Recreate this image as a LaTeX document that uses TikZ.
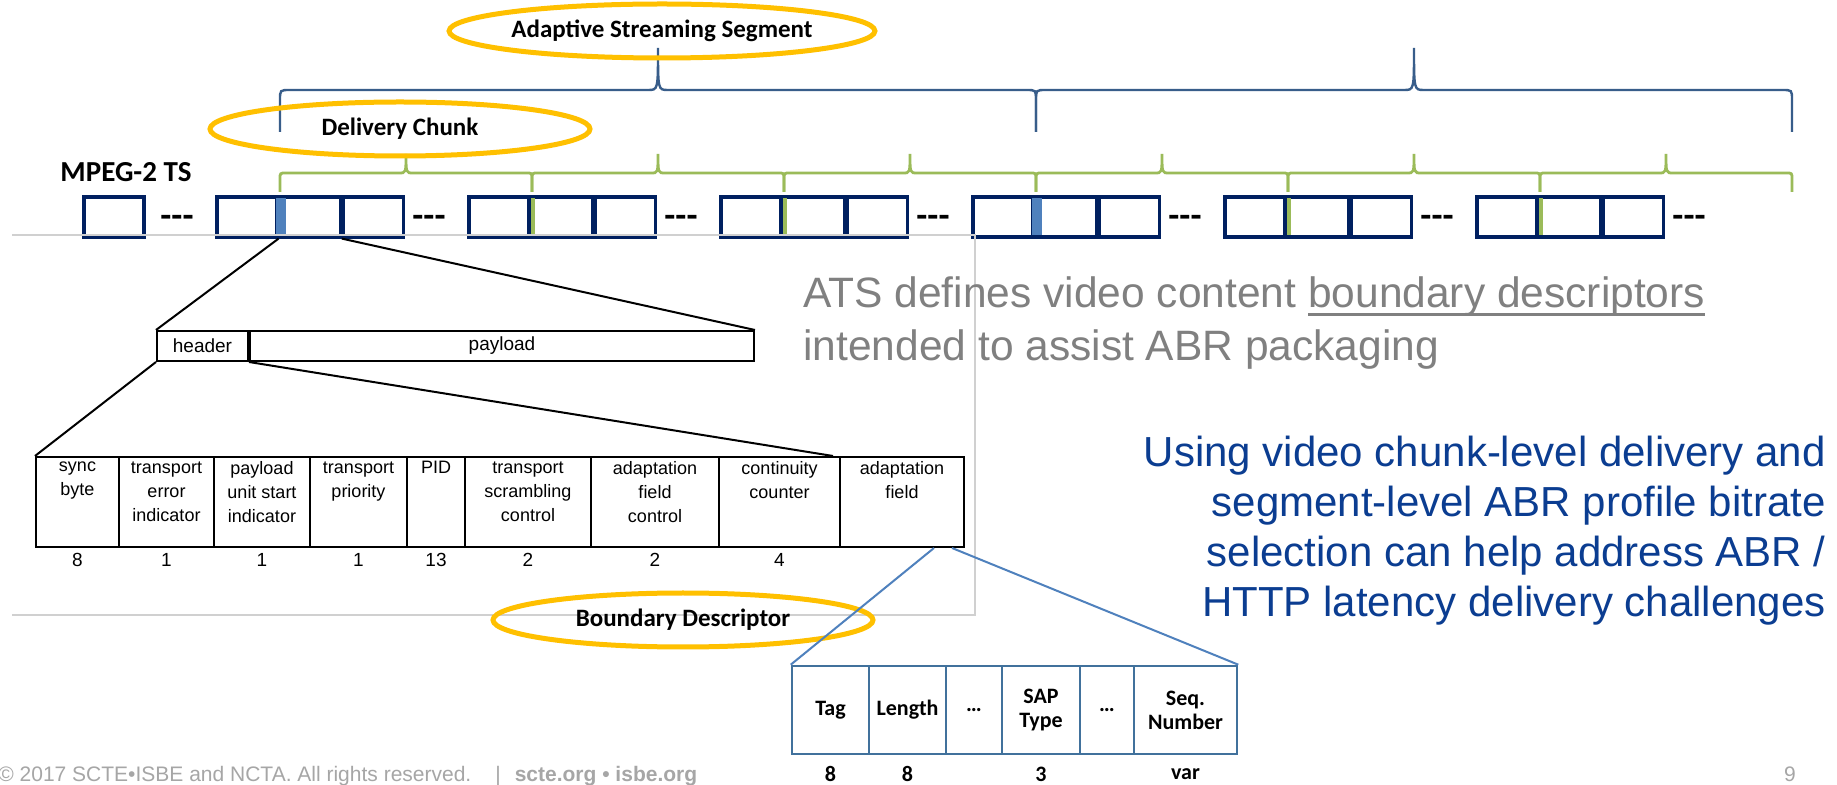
\documentclass[tikz,border=0pt]{standalone}
\usepackage{fontspec}
\setmainfont{Liberation Sans}
\newfontfamily\calibri{Carlito}
\usepackage{tikz}
\usetikzlibrary{shapes.geometric,positioning,calc}
\definecolor{tsNavy}{HTML}{002060}
\definecolor{markBlue}{HTML}{4F81BD}
\definecolor{chunkGreen}{HTML}{9BBB59}
\definecolor{segBlue}{HTML}{385D8A}
\definecolor{ringGold}{HTML}{FFC000}
\definecolor{noteGray}{HTML}{808080}
\definecolor{noteBlue}{HTML}{0B3D91}
\definecolor{footGray}{HTML}{A6A6A6}
\definecolor{frameGray}{HTML}{D0D0D0}
\definecolor{descBlue}{HTML}{41719C}
\newcommand{\thickUnderline}[1]{\setbox0\hbox{#1}\rlap{\rule[-4.2pt]{\wd0}{1.4pt}}\box0}

\begin{document}
\begin{tikzpicture}[x=0.5pt,y=-0.5pt,
    tsbox/.style={rectangle,draw=tsNavy,line width=1.6pt,minimum width=30pt,minimum height=20pt,inner sep=0pt},
    tsdash/.style={inner sep=0pt,font=\calibri\bfseries\fontsize{18}{20}\selectfont},
    ring/.style={ellipse,draw=ringGold,line width=2.5pt,minimum width=190pt,minimum height=27pt,inner sep=0pt,font=\calibri\bfseries\fontsize{12.5}{15}\selectfont},
    segline/.style={draw=segBlue,line width=1.2pt},
    chunkline/.style={draw=chunkGreen,line width=1.4pt},
    hdrcell/.style={rectangle,draw,line width=1pt,minimum height=15pt,inner sep=0pt,font=\fontsize{9.5}{11}\selectfont},
    fieldcell/.style={rectangle,draw,line width=1pt,minimum height=45pt,inner sep=0pt},
    fieldtext/.style={inner sep=0pt,align=center,font=\fontsize{9}{12}\selectfont},
    bitcount/.style={inner sep=0pt,font=\fontsize{9.5}{11}\selectfont},
    desccell/.style={rectangle,draw=descBlue,line width=1.3pt,minimum height=44pt,inner sep=0pt,align=center,font=\calibri\bfseries\fontsize{11}{12}\selectfont},
    descbits/.style={inner sep=0pt,font=\calibri\bfseries\fontsize{11}{12}\selectfont},
    zoomline/.style={draw,line width=1pt},
    descline/.style={draw=markBlue,line width=1pt}]
    \fill[white] (0,0) rectangle (1837,785);
    \useasboundingbox (0,0) rectangle (1837,785);
    \clip (0,0) rectangle (1837,785);

    \foreach \a/\m/\b in {280/658/1036, 1036/1414/1792}
      \draw[segline] (\a,132) -- (\a,100) .. controls (\a,90) .. (\a+10,90) -- (\m-10,90) .. controls (\m,90) .. (\m,48) .. controls (\m,90) .. (\m+10,90) -- (\b-10,90) .. controls (\b,90) .. (\b,100) -- (\b,132);
    \foreach \a/\m/\b in {280/406/532, 532/658/784, 784/910/1036, 1036/1162/1288, 1288/1414/1540, 1540/1666/1792}
      \draw[chunkline] (\a,192) -- (\a,179) .. controls (\a,173) .. (\a+6,173) -- (\m-7,173) .. controls (\m,173) .. (\m,154) .. controls (\m,173) .. (\m+7,173) -- (\b-6,173) .. controls (\b,173) .. (\b,179) -- (\b,192);

    \node [ring] (segment) at (662,31) {Adaptive Streaming Segment};
    \node [ring] (chunk) at (400,129) {Delivery Chunk};
    \node [inner sep=0pt,font=\calibri\bfseries\fontsize{14.5}{16}\selectfont] (mpegLabel) at (126,172) {MPEG-2 TS};

    \node [tsbox] (firstPacket) at (114,217) {};
    \foreach \i/\g/\mk/\mw in {1/217/markBlue/5pt, 2/469/chunkGreen/2pt, 3/721/chunkGreen/2pt, 4/973/markBlue/5pt, 5/1225/chunkGreen/2pt, 6/1477/chunkGreen/2pt}
    {
      \node [tsbox] (packet\i-1) at (\g+30,217) {};
      \node [tsbox,right=0pt of packet\i-1] (packet\i-2) {};
      \node [tsbox,right=0pt of packet\i-2] (packet\i-3) {};
      \node [fill=\mk,minimum width=\mw,minimum height=18.5pt,inner sep=0pt] (marker\i) at (\g+64,217) {};
      \node [tsdash] (dash\i) at (\g-40,221) {-{}-{}-};
    }
    \node [tsdash] (dash7) at (1689,221) {-{}-{}-};

    \draw [frameGray,line width=0.6pt] (12,235) -- (975,235) -- (975,615) -- (12,615);

    \node [hdrcell,minimum width=45.5pt] (headerCell) at (202.5,346) {header};
    \node [hdrcell,minimum width=252pt,right=0pt of headerCell] (payloadCell) {payload};

    \foreach \nm/\xa/\xb/\txt/\bits in {syncByte/36/119/{sync\\byte}/8, errorInd/119/214/{transport\\error\\indicator}/1, startInd/214/310/{payload\\unit start\\indicator}/1, priority/310/407/{transport\\priority}/1, pid/407/465/{PID}/13, scrambling/465/591/{transport\\scrambling\\control}/2, afControl/591/719/{adaptation\\field\\control}/2, contCounter/719/840/{continuity\\counter}/4, adaptField/840/964/{adaptation\\field}/{}}
    {
      \pgfmathsetmacro{\cw}{(\xb-\xa)*0.5}
      \pgfmathsetmacro{\cx}{(\xa+\xb)/2}
      \node [fieldcell,minimum width=\cw pt] (\nm) at (\cx,502) {};
      \node [fieldtext,below=2.5pt of \nm.north] (\nm Text) {\txt};
      \node [bitcount] (\nm Bits) at (\cx,560) {\bits};
    }

    \node [ring] (boundary) at (683,620) {Boundary Descriptor};

    \foreach \nm/\xa/\xb/\txt/\bits in {tagCell/792/869/{Tag}/8, lengthCell/869/946/{Length}/8, skipCellA/946/1002/{…}/{}, sapCell/1002/1080/{SAP\\Type}/3, skipCellB/1080/1134/{…}/{}, seqCell/1134/1237/{Seq.\\Number}/var}
    {
      \pgfmathsetmacro{\cw}{(\xb-\xa)*0.5}
      \pgfmathsetmacro{\cx}{(\xa+\xb)/2}
      \node [desccell,minimum width=\cw pt] (\nm) at (\cx,710) {\txt};
      \node [descbits] (\nm Bits) at (\cx,774) {\bits};
    }

    \draw [zoomline] (packet1-2.south west) -- (headerCell.north west);
    \draw [zoomline] (packet1-3.south west) -- (payloadCell.north east);
    \draw [zoomline] (headerCell.south west) -- (syncByte.north west);
    \draw [zoomline] (headerCell.south east) -- ($(contCounter.north east)+(-8,0)$);
    \draw [descline] ($(adaptField.south east)+(-31,0)$) -- (tagCell.north west);
    \draw [descline] ($(adaptField.south east)+(-13,0)$) -- (seqCell.north east);

    \node [anchor=north west,inner sep=0pt,align=left,text=noteGray,font=\fontsize{21.25}{26.5}\selectfont] (atsNote) at (803,276) {ATS defines video content \thickUnderline{boundary descriptors}\\intended to assist ABR packaging};
    \node [anchor=north east,inner sep=0pt,align=right,text=noteBlue,font=\fontsize{21}{25}\selectfont] (abrNote) at (1826,436) {Using video chunk-level delivery and\\segment-level ABR profile bitrate\\selection can help address ABR /\\HTTP latency delivery challenges};

    \node [anchor=base west,inner sep=0pt,text=footGray,font=\fontsize{10.5}{12}\selectfont] (footer) at (-2,781) {© 2017 SCTE•ISBE and NCTA. All rights reserved.\hspace{12pt}|\hspace{7pt}\textbf{scte.org • isbe.org}};
    \node [anchor=base,inner sep=0pt,text=footGray,font=\fontsize{10.5}{12}\selectfont] (pageNum) at (1790,781) {9};
  \end{tikzpicture}
\end{document}
